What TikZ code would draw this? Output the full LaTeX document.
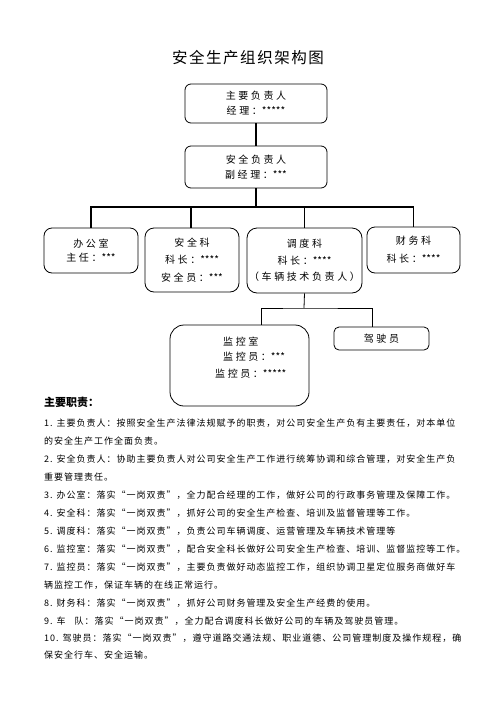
\documentclass[tikz,border=0pt]{standalone}
\usepackage{fontspec}
\newfontfamily\cjk{Noto Sans CJK SC}
\newfontfamily\boxfont[LetterSpace=26]{Noto Sans CJK SC}
\newfontfamily\bodyfont[LetterSpace=11]{Noto Sans CJK SC}
\newfontfamily\titlefont[LetterSpace=10]{Noto Sans CJK SC}
\newcommand\plainstars[1]{{\cjk #1}}
\begin{document}
\begin{tikzpicture}[x=1pt,y=-1pt,
  orgbox/.style={draw, line width=0.8pt, rounded corners=6pt, inner sep=0pt, align=center,
    font=\boxfont\fontsize{10}{16.5}\selectfont},
  thick conn/.style={line width=1.6pt},
  thin conn/.style={line width=0.8pt},
  bodyline/.style={anchor=west, inner sep=0pt, font=\bodyfont\fontsize{9}{10}\selectfont},
  plain/.style={inner sep=0pt, font=\boxfont\fontsize{10}{12}\selectfont}]
\useasboundingbox (0,0) rectangle (496,702);
\node[font=\titlefont\fontsize{15.5}{18}\selectfont, inner sep=0pt] (title) at (248,58) {安全生产组织架构图};
\node[orgbox, minimum width=142pt, minimum height=39pt, font=\boxfont\fontsize{10}{15}\selectfont] (b1) at (256,103.5) {主要负责人\\经理：\plainstars{*****}};
\node[orgbox, minimum width=142pt, minimum height=42pt, font=\boxfont\fontsize{10}{15}\selectfont] (b2) at (256,167) {安全负责人\\副经理：\plainstars{***}};
\node[orgbox, minimum width=94pt, minimum height=45pt, rounded corners=8pt, font=\boxfont\fontsize{10}{15}\selectfont] (office) at (91,250.5) {\raisebox{4pt}{\parbox{80pt}{\centering 办公室\\[-1pt]主任：\plainstars{***}}}};
\node[orgbox, minimum width=94pt, minimum height=64pt, rounded corners=9pt, font=\boxfont\fontsize{10}{17.5}\selectfont] (safety) at (192,260) {安全科\\科长：\plainstars{****}\\安全员：\plainstars{***}};
\node[orgbox, minimum width=115pt, minimum height=65pt, rounded corners=10pt, font=\boxfont\fontsize{10}{16.5}\selectfont] (dispatch) at (304.5,260.5) {调度科\\科长：\plainstars{****}\\（车辆技术负责人）};
\node[orgbox, minimum width=93pt, minimum height=46pt, rounded corners=8pt, font=\boxfont\fontsize{10}{18}\selectfont] (finance) at (413.5,250) {财务科\\科长：\plainstars{****}};
\node[orgbox, minimum width=139pt, minimum height=81pt, rounded corners=14pt] (monitor) at (239.5,365.5) {};
\node[plain, anchor=west] (m1) at (223,342) {监控室};
\node[plain, anchor=west] (m2) at (223,357) {监控员：\plainstars{***}};
\node[plain, anchor=west] (m3) at (215,374) {监控员：\plainstars{*****}};
\node[orgbox, minimum width=95pt, minimum height=23pt, rounded corners=5pt] (driver) at (381.5,338.5) {驾驶员};
% connectors
\coordinate (bus) at (256,207);
\draw[thick conn] (b1.south) -- (b2.north);
\draw[thick conn] (b2.south) -- (bus);
\draw[thick conn] (office.north) |- (bus) -| (finance.north);
\draw[thick conn] ([xshift=-1]safety.north) -- ([xshift=-1]safety.north |- bus);
\draw[thick conn] (dispatch.north) -- (dispatch.north |- bus);
\coordinate (lb) at (304,308);
\draw[thin conn] (dispatch.south) -- (lb);
\draw[thin conn] ([xshift=21.5]monitor.north) |- (lb) -| ([xshift=-9.5]driver.north);
% text
\node[anchor=west, inner sep=0pt, font=\cjk\fontsize{11}{12}\selectfont\bfseries] (duty) at (44,402) {主要职责：};
\node[bodyline] (l1) at (44,423) {1. 主要负责人：按照安全生产法律法规赋予的职责，对公司安全生产负有主要责任，对本单位};
\node[bodyline] (l2) at (44,441) {的安全生产工作全面负责。};
\node[bodyline] (l3) at (44,459) {2. 安全负责人：协助主要负责人对公司安全生产工作进行统筹协调和综合管理，对安全生产负};
\node[bodyline] (l4) at (44,477) {重要管理责任。};
\node[bodyline] (l5) at (44,495) {3. 办公室：落实“一岗双责”，全力配合经理的工作，做好公司的行政事务管理及保障工作。};
\node[bodyline] (l6) at (44,513) {4. 安全科：落实“一岗双责”，抓好公司的安全生产检查、培训及监督管理等工作。};
\node[bodyline] (l7) at (44,531) {5. 调度科：落实“一岗双责”，负责公司车辆调度、运营管理及车辆技术管理等};
\node[bodyline] (l8) at (44,549) {6. 监控室：落实“一岗双责”，配合安全科长做好公司安全生产检查、培训、监督监控等工作。};
\node[bodyline] (l9) at (44,567) {7. 监控员：落实“一岗双责”，主要负责做好动态监控工作，组织协调卫星定位服务商做好车};
\node[bodyline] (l10) at (44,585) {辆监控工作，保证车辆的在线正常运行。};
\node[bodyline] (l11) at (44,603) {8. 财务科：落实“一岗双责”，抓好公司财务管理及安全生产经费的使用。};
\node[bodyline] (l12) at (44,621) {9. 车\hspace{9pt}队：落实“一岗双责”，全力配合调度科长做好公司的车辆及驾驶员管理。};
\node[bodyline] (l13) at (44,638) {10. 驾驶员：落实“一岗双责”，遵守道路交通法规、职业道德、公司管理制度及操作规程，确};
\node[bodyline] (l14) at (44,655) {保安全行车、安全运输。};
\end{tikzpicture}
\end{document}
